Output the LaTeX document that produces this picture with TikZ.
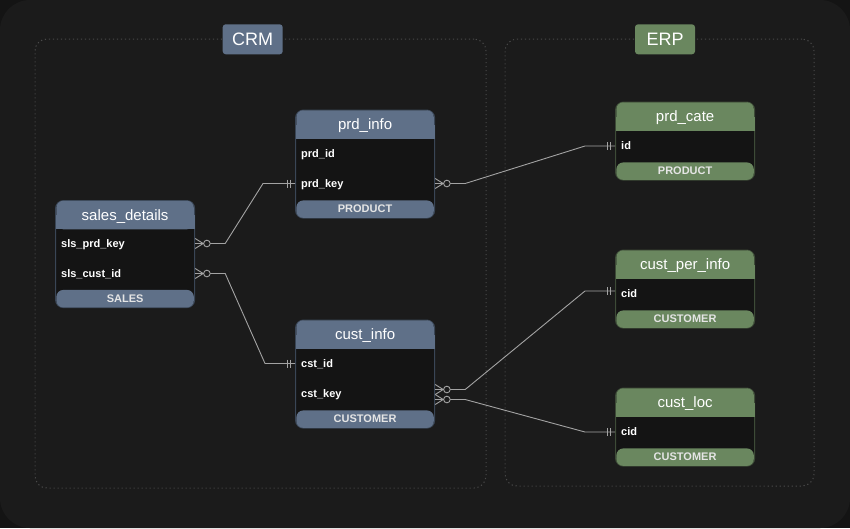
\documentclass[tikz,border=0pt]{standalone}
\usepackage{fontspec}
\setmainfont{Liberation Sans}
\usetikzlibrary{calc}

\definecolor{bgout}{HTML}{141414}
\definecolor{bgin}{HTML}{1B1B1B}
\definecolor{bodyc}{HTML}{141414}
\definecolor{crmc}{HTML}{5F7088}
\definecolor{crmb}{HTML}{3A4656}
\definecolor{erpc}{HTML}{6A875F}
\definecolor{erpb}{HTML}{3D4B37}
\definecolor{lnkc}{HTML}{A3A3A3}
\definecolor{dotc}{HTML}{4A4A4A}

\begin{document}
\begin{tikzpicture}[x=1pt, y=-1pt,
  frame/.style={draw=#1, fill=bodyc, rounded corners=8pt, line width=1.2pt,
                minimum width=139pt, anchor=north west, inner sep=0pt},
  head/.style={fill=#1, rounded corners=7pt, minimum width=137.5pt, minimum height=28.5pt,
               anchor=north, text=white, inner sep=0pt, text height=11pt, text depth=0.5pt,
               font=\fontsize{15}{18}\selectfont},
  foot/.style={fill=#1, rounded corners=7pt, minimum width=137.5pt, minimum height=17.5pt,
               anchor=south, text=white!90!black, inner sep=0pt,
               font=\bfseries\fontsize{11}{13}\selectfont},
  field/.style={anchor=west, text=white, inner sep=0pt, text height=8pt, text depth=0.5pt,
                font=\bfseries\fontsize{11}{13}\selectfont},
  tag/.style={fill=#1, rounded corners=3pt, text=white, minimum width=60pt,
              minimum height=30pt, inner sep=0pt, font=\fontsize{18}{20}\selectfont},
  grp/.style={draw=dotc, line width=1pt, dash pattern=on 1.2pt off 2.8pt,
              rounded corners=12pt, inner sep=0pt},
  lnk/.style={draw=lnkc, line width=0.9pt},
  many/.pic={\draw[lnk] (0,-5) -- (8,0) -- (0,5) (0,0) -- (8,0);
             \draw[lnk, fill=bgin] (11.7,0) circle (3.3);},
  one/.pic={\draw[lnk] (-8,-4) -- (-8,4) (-5,-4) -- (-5,4);}]

\useasboundingbox (0,0) rectangle (850,528);
\fill[bgout] (0,0) rectangle (850,528);
\fill[bgin, rounded corners=30pt] (0,0) rectangle (850,528);

% groups
\node[grp, minimum width=451pt, minimum height=449pt] (crmbox) at (260.5,263.5) {};
\node[grp, minimum width=309pt, minimum height=447pt] (erpbox) at (659.5,262.5) {};
\node[tag=crmc] (crm) at (252.7,39.3) {CRM};
\node[tag=erpc] (erp) at (665,39.3) {ERP};

% CRM tables
\node[frame=crmb, minimum height=107pt] (sd) at (55,200) {};
\fill[crmc] ([shift={(0.6pt,-15pt)}]sd.north west) rectangle ([shift={(-0.6pt,-29.1pt)}]sd.north east);
\node[head=crmc] (sdh) at ([yshift=-0.6pt]sd.north) {sales\_details};
\node[foot=crmc] (sdf) at ([yshift=0.6pt]sd.south) {SALES};
\node[field] (sdprd) at (61,243.5) {sls\_prd\_key};
\node[field] (sdcust) at (61,273.5) {sls\_cust\_id};

\node[frame=crmb, minimum height=108pt] (pi) at (295,109.5) {};
\fill[crmc] ([shift={(0.6pt,-15pt)}]pi.north west) rectangle ([shift={(-0.6pt,-29.1pt)}]pi.north east);
\node[head=crmc] (pih) at ([yshift=-0.6pt]pi.north) {prd\_info};
\node[foot=crmc] (pif) at ([yshift=0.6pt]pi.south) {PRODUCT};
\node[field] (piid) at (301,153.5) {prd\_id};
\node[field] (pikey) at (301,183.5) {prd\_key};

\node[frame=crmb, minimum height=108pt] (ci) at (295,319.5) {};
\fill[crmc] ([shift={(0.6pt,-15pt)}]ci.north west) rectangle ([shift={(-0.6pt,-29.1pt)}]ci.north east);
\node[head=crmc] (cih) at ([yshift=-0.6pt]ci.north) {cust\_info};
\node[foot=crmc] (cif) at ([yshift=0.6pt]ci.south) {CUSTOMER};
\node[field] (ciid) at (301,363.5) {cst\_id};
\node[field] (cikey) at (301,393.5) {cst\_key};

% ERP tables
\node[frame=erpb, minimum height=78pt] (pc) at (615,101.5) {};
\fill[erpc] ([shift={(0.6pt,-15pt)}]pc.north west) rectangle ([shift={(-0.6pt,-29.1pt)}]pc.north east);
\node[head=erpc] (pch) at ([yshift=-0.6pt]pc.north) {prd\_cate};
\node[foot=erpc] (pcf) at ([yshift=0.6pt]pc.south) {PRODUCT};
\node[field] (pcid) at (621,146) {id};

\node[frame=erpb, minimum height=78pt] (cp) at (615,249.5) {};
\fill[erpc] ([shift={(0.6pt,-15pt)}]cp.north west) rectangle ([shift={(-0.6pt,-29.1pt)}]cp.north east);
\node[head=erpc] (cph) at ([yshift=-0.6pt]cp.north) {cust\_per\_info};
\node[foot=erpc] (cpf) at ([yshift=0.6pt]cp.south) {CUSTOMER};
\node[field] (cpcid) at (621,293.5) {cid};

\node[frame=erpb, minimum height=78pt] (cl) at (615,387.5) {};
\fill[erpc] ([shift={(0.6pt,-15pt)}]cl.north west) rectangle ([shift={(-0.6pt,-29.1pt)}]cl.north east);
\node[head=erpc] (clh) at ([yshift=-0.6pt]cl.north) {cust\_loc};
\node[foot=erpc] (clf) at ([yshift=0.6pt]cl.south) {CUSTOMER};
\node[field] (clcid) at (621,432) {cid};

% relations
\draw[lnk] (sdprd -| sd.east) -- ++(30,0) -- ($(pikey -| pi.west)+(-32,0)$) -- (pikey -| pi.west);
\draw[lnk] (sdcust -| sd.east) -- ++(30,0) -- ($(ciid -| ci.west)+(-30,0)$) -- (ciid -| ci.west);
\draw[lnk] (pikey -| pi.east) -- ++(30,0) -- ($(pcid -| pc.west)+(-30,0)$) -- (pcid -| pc.west);
\draw[lnk] ($(cikey -| ci.east)+(0,-4)$) -- ++(30,0) -- ($(cpcid -| cp.west)+(-30,-2.5)$) -- ($(cpcid -| cp.west)+(0,-2.5)$);
\draw[lnk] ($(cikey -| ci.east)+(0,6)$) -- ++(30,0) -- ($(clcid -| cl.west)+(-30,0)$) -- (clcid -| cl.west);

\pic at (sdprd -| sd.east) {many};
\pic at (sdcust -| sd.east) {many};
\pic at (pikey -| pi.east) {many};
\pic at ($(cikey -| ci.east)+(0,-4)$) {many};
\pic at ($(cikey -| ci.east)+(0,6)$) {many};
\pic at (pikey -| pi.west) {one};
\pic at (ciid -| ci.west) {one};
\pic at (pcid -| pc.west) {one};
\pic at ($(cpcid -| cp.west)+(0,-2.5)$) {one};
\pic at (clcid -| cl.west) {one};
\end{tikzpicture}
\end{document}
